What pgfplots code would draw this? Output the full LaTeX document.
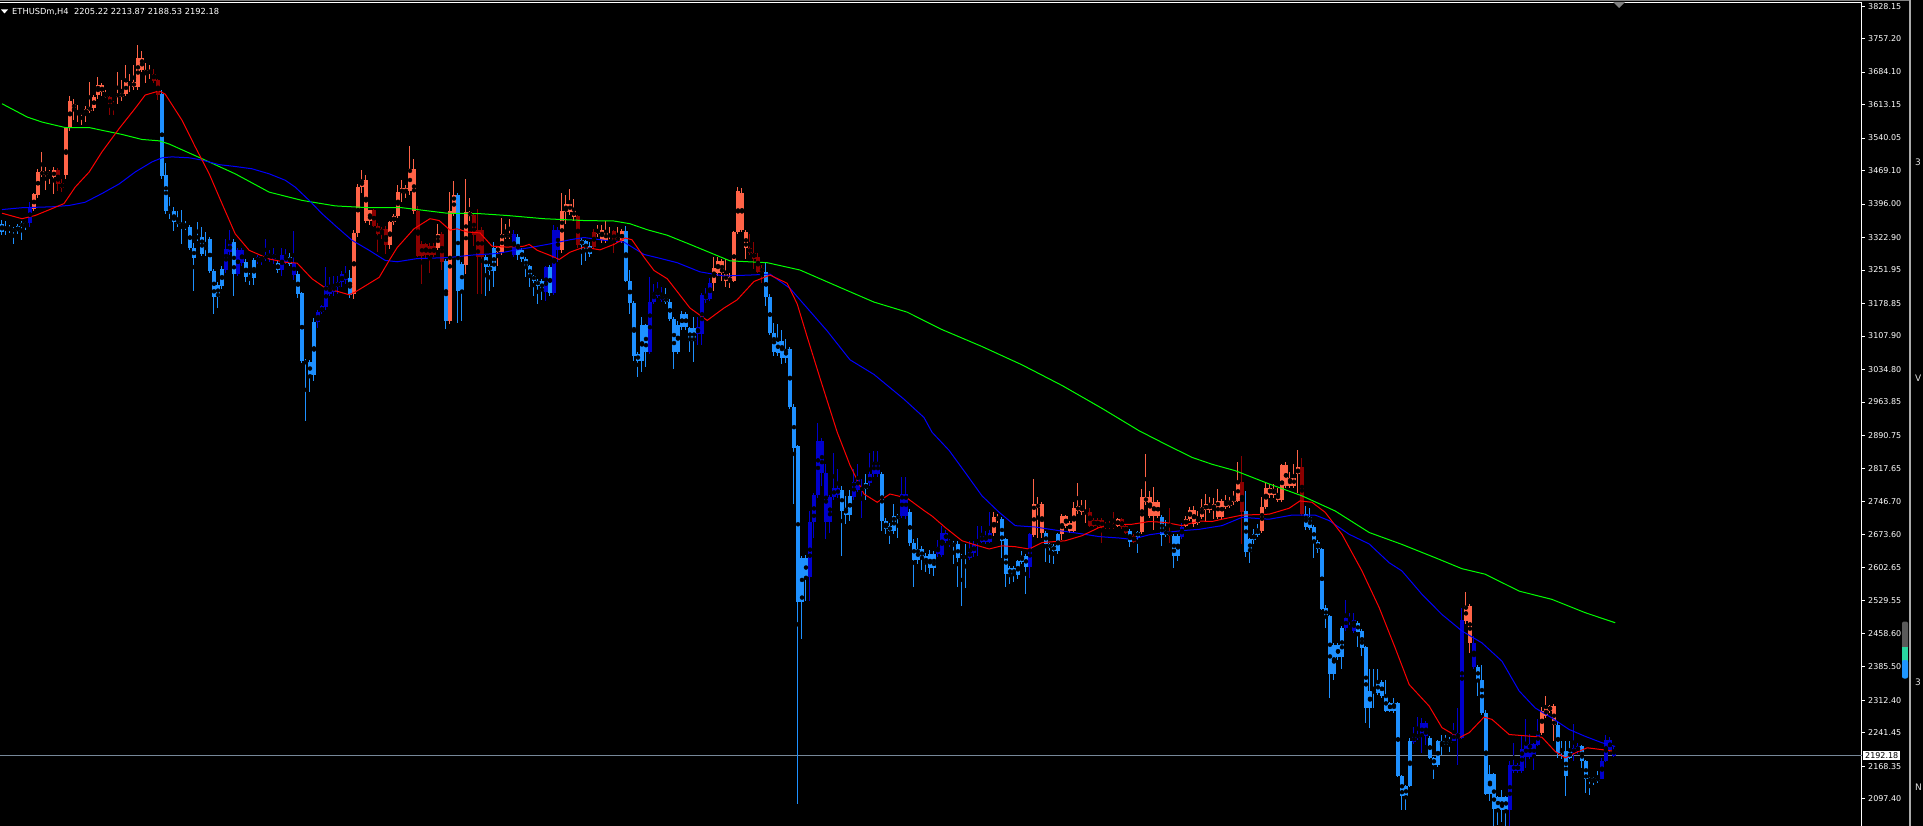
\documentclass[border=0pt]{standalone}
\usepackage{fontspec}
\setmainfont{DejaVu Sans}
\usepackage{pgfplots}
\usepackage{pgfplotstable}
\pgfplotsset{compat=1.18}

\definecolor{upred}{HTML}{FF6347}
\definecolor{dnred}{HTML}{8B0000}
\definecolor{dnblue}{HTML}{1E90FF}
\definecolor{upblue}{HTML}{0000CD}
\definecolor{pline}{HTML}{778899}

% ETHUSDm H4 bars: index, open, high, low, close, colour class
% k: 0 tomato, 1 dark red, 2 dodger blue, 3 medium blue
\pgfplotstableread{
i o h l c k
0 3352 3362 3328 3334 2
1 3340 3358 3328 3344 2
2 3346 3350 3333 3339 2
3 3341 3345 3309 3337 2
4 3347 3352 3330 3338 2
5 3354 3360 3317 3347 2
6 3356 3358 3340 3353 2
7 3355 3400 3346 3390 3
8 3385 3420 3380 3417 0
9 3416 3473 3410 3467 0
10 3459 3510 3455 3468 0
11 3460 3477 3426 3466 0
12 3462 3470 3440 3465 0
13 3454 3477 3418 3470 0
14 3471 3474 3425 3440 1
15 3442 3450 3422 3432 1
16 3459 3565 3451 3563 0
17 3563 3632 3555 3621 0
18 3605 3625 3580 3615 0
19 3594 3612 3576 3600 0
20 3594 3600 3568 3597 0
21 3594 3610 3575 3603 0
22 3600 3663 3595 3608 0
23 3605 3635 3600 3629 0
24 3634 3674 3625 3656 0
25 3640 3660 3632 3655 0
26 3629 3645 3627 3637 0
27 3630 3632 3590 3611 1
28 3615 3620 3590 3612 1
29 3630 3685 3615 3637 0
30 3630 3666 3620 3638 0
31 3636 3700 3632 3663 0
32 3655 3680 3640 3663 0
33 3652 3699 3645 3662 0
34 3652 3744 3645 3714 0
35 3688 3730 3685 3714 0
36 3681 3703 3660 3688 0
37 3681 3700 3670 3688 0
38 3681 3690 3660 3665 1
39 3666 3670 3623 3634 1
40 3637 3645 3450 3457 2
41 3459 3486 3375 3381 2
42 3382 3411 3364 3377 2
43 3381 3390 3338 3357 2
44 3360 3380 3345 3353 2
45 3354 3384 3308 3349 2
46 3349 3359 3340 3344 2
47 3346 3350 3295 3300 2
48 3300 3310 3207 3278 2
49 3325 3357 3315 3322 2
50 3324 3345 3283 3287 2
51 3302 3335 3283 3298 2
52 3319 3325 3245 3250 2
53 3250 3255 3156 3194 2
54 3220 3225 3170 3194 2
55 3255 3260 3210 3218 2
56 3253 3320 3245 3297 3
57 3291 3340 3285 3311 3
58 3313 3320 3196 3244 2
59 3244 3300 3240 3296 3
60 3267 3300 3260 3296 3
61 3269 3275 3225 3236 2
62 3240 3245 3220 3235 2
63 3273 3278 3220 3235 2
64 3271 3285 3265 3280 3
65 3275 3285 3262 3280 3
66 3277 3320 3272 3284 3
67 3280 3295 3270 3287 3
68 3275 3300 3265 3287 3
69 3267 3272 3245 3253 2
70 3251 3300 3240 3284 3
71 3270 3298 3265 3284 3
72 3280 3290 3260 3266 2
73 3242 3338 3230 3267 3
74 3244 3250 3190 3200 2
75 3201 3205 3050 3053 2
76 3053 3058 2923 3048 2
77 3051 3055 2985 3023 2
78 3139 3147 3010 3023 2
79 3139 3165 3125 3160 3
80 3160 3175 3155 3173 3
81 3171 3258 3165 3218 3
82 3200 3236 3195 3217 3
83 3205 3240 3195 3217 3
84 3215 3240 3200 3226 3
85 3225 3250 3215 3244 3
86 3230 3260 3222 3244 3
87 3234 3252 3192 3198 2
88 3200 3340 3189 3333 0
89 3333 3440 3325 3433 0
90 3433 3471 3420 3448 0
91 3360 3460 3355 3448 0
92 3360 3383 3350 3382 0
93 3382 3385 3345 3349 1
94 3349 3355 3291 3331 1
95 3342 3346 3320 3331 1
96 3342 3348 3287 3306 1
97 3306 3360 3298 3357 0
98 3357 3375 3350 3371 0
99 3371 3437 3365 3422 0
100 3420 3448 3400 3430 0
101 3420 3437 3410 3430 0
102 3425 3522 3415 3472 0
103 3380 3494 3375 3472 0
104 3381 3392 3280 3282 1
105 3308 3315 3222 3282 1
106 3308 3312 3277 3285 1
107 3304 3310 3245 3284 1
108 3304 3312 3280 3284 1
109 3301 3353 3295 3330 0
110 3331 3335 3251 3269 1
111 3271 3275 3124 3140 2
112 3140 3422 3135 3380 0
113 3375 3446 3370 3415 0
114 3415 3420 3136 3207 2
115 3266 3270 3140 3207 2
116 3264 3450 3244 3379 0
117 3369 3410 3360 3379 0
118 3372 3376 3305 3329 1
119 3340 3386 3199 3280 1
120 3340 3345 3199 3280 1
121 3280 3285 3196 3258 2
122 3260 3265 3207 3250 2
123 3301 3313 3215 3250 2
124 3291 3305 3260 3302 0
125 3291 3366 3285 3331 0
126 3324 3352 3320 3331 0
127 3324 3364 3320 3331 0
128 3284 3340 3280 3330 3
129 3325 3330 3273 3284 2
130 3295 3300 3270 3277 2
131 3277 3280 3237 3258 2
132 3260 3262 3216 3238 2
133 3240 3242 3196 3229 2
134 3229 3232 3177 3218 2
135 3229 3232 3187 3207 2
136 3204 3260 3184 3258 3
137 3258 3262 3195 3202 2
138 3202 3350 3198 3339 3
139 3296 3345 3270 3339 3
140 3296 3420 3290 3381 0
141 3379 3415 3353 3397 0
142 3379 3428 3372 3397 0
143 3368 3408 3360 3382 0
144 3369 3372 3300 3306 1
145 3318 3322 3262 3306 2
146 3315 3318 3272 3295 2
147 3304 3313 3280 3286 2
148 3335 3342 3298 3302 1
149 3331 3350 3325 3340 0
150 3317 3350 3312 3340 0
151 3317 3359 3312 3335 0
152 3313 3345 3310 3317 0
153 3337 3340 3290 3313 1
154 3317 3346 3312 3324 0
155 3315 3342 3310 3337 0
156 3337 3347 3225 3228 2
157 3229 3251 3156 3180 2
158 3181 3185 3054 3065 2
159 3069 3072 3018 3053 2
160 3131 3149 3030 3053 2
161 3131 3135 3041 3072 2
162 3072 3237 3068 3182 3
163 3182 3222 3178 3204 3
164 3196 3225 3190 3207 3
165 3187 3215 3182 3196 3
166 3192 3212 3178 3182 2
167 3182 3188 3140 3146 2
168 3146 3150 3035 3074 2
169 3131 3140 3068 3074 2
170 3155 3162 3120 3128 2
171 3155 3160 3122 3128 2
172 3125 3128 3074 3097 2
173 3125 3150 3052 3097 2
174 3113 3150 3088 3128 3
175 3113 3202 3088 3198 3
176 3187 3212 3180 3198 3
177 3189 3234 3185 3223 3
178 3223 3281 3207 3256 0
179 3245 3281 3240 3272 0
180 3245 3275 3227 3272 0
181 3227 3277 3216 3243 0
182 3227 3245 3212 3236 0
183 3227 3338 3225 3335 0
184 3335 3434 3330 3425 0
185 3340 3430 3335 3420 0
186 3299 3340 3275 3335 0
187 3299 3331 3285 3290 1
188 3290 3313 3255 3277 1
189 3281 3290 3245 3248 1
190 3256 3262 3223 3248 1
191 3248 3268 3173 3194 2
192 3194 3200 3110 3115 2
193 3115 3137 3065 3074 2
194 3098 3135 3065 3071 2
195 3098 3120 3047 3061 2
196 3079 3101 3050 3061 2
197 3079 3085 2948 2952 2
198 2954 2960 2741 2864 2
199 2867 2870 2087 2527 2
200 2624 2628 2446 2527 2
201 2624 2630 2530 2581 2
202 2581 2727 2530 2702 3
203 2702 2765 2666 2761 3
204 2761 2918 2755 2879 3
205 2808 2885 2780 2879 3
206 2702 2828 2665 2808 3
207 2702 2760 2678 2756 3
208 2756 2853 2750 2777 3
209 2760 2817 2755 2777 3
210 2772 2780 2628 2727 2
211 2732 2759 2698 2718 2
212 2759 2772 2705 2718 2
213 2756 2817 2750 2790 3
214 2772 2828 2768 2801 3
215 2772 2795 2711 2777 3
216 2786 2807 2750 2775 2
217 2786 2853 2780 2806 3
218 2806 2858 2800 2833 3
219 2806 2858 2800 2833 3
220 2806 2812 2682 2705 2
221 2705 2710 2675 2687 2
222 2693 2700 2653 2682 2
223 2716 2741 2676 2682 2
224 2716 2720 2668 2709 2
225 2716 2801 2710 2763 3
226 2716 2801 2709 2763 3
227 2723 2730 2650 2657 2
228 2657 2665 2561 2619 2
229 2642 2666 2610 2619 2
230 2642 2650 2597 2624 2
231 2628 2635 2592 2610 2
232 2633 2640 2588 2601 2
233 2633 2638 2583 2601 2
234 2633 2662 2625 2648 3
235 2630 2693 2625 2679 3
236 2661 2685 2655 2679 3
237 2653 2665 2648 2661 3
238 2655 2660 2610 2650 2
239 2653 2661 2559 2623 2
240 2628 2632 2519 2623 2
241 2628 2653 2557 2623 2
242 2624 2661 2618 2637 3
243 2635 2661 2625 2653 3
244 2659 2693 2628 2661 3
245 2659 2693 2655 2672 3
246 2659 2682 2655 2672 3
247 2659 2723 2655 2679 3
248 2677 2723 2672 2712 0
249 2706 2719 2700 2712 0
250 2708 2712 2624 2661 2
251 2664 2668 2559 2588 2
252 2602 2606 2566 2586 2
253 2602 2606 2570 2586 2
254 2617 2620 2577 2586 2
255 2628 2639 2610 2615 2
256 2628 2632 2545 2604 2
257 2604 2678 2580 2675 3
258 2674 2796 2670 2741 0
259 2733 2757 2666 2741 0
260 2679 2745 2668 2741 0
261 2679 2683 2615 2653 2
262 2653 2657 2613 2646 2
263 2650 2654 2611 2639 2
264 2675 2679 2632 2639 2
265 2675 2720 2662 2715 0
266 2694 2718 2688 2715 0
267 2683 2705 2678 2699 0
268 2683 2745 2678 2732 0
269 2726 2788 2720 2737 0
270 2723 2750 2718 2737 0
271 2720 2750 2700 2725 0
272 2723 2733 2690 2694 1
273 2706 2710 2690 2694 1
274 2706 2710 2686 2694 1
275 2706 2710 2657 2690 1
276 2697 2702 2686 2690 1
277 2697 2705 2686 2690 1
278 2697 2724 2686 2690 1
279 2694 2710 2690 2708 0
280 2708 2710 2686 2690 1
281 2694 2697 2675 2679 1
282 2683 2687 2647 2659 2
283 2672 2675 2655 2659 1
284 2681 2683 2635 2669 2
285 2681 2774 2676 2756 0
286 2745 2851 2740 2757 0
287 2715 2770 2710 2757 0
288 2715 2779 2684 2745 0
289 2715 2750 2710 2745 0
290 2713 2718 2650 2674 2
291 2683 2706 2670 2674 2
292 2681 2732 2657 2672 1
293 2672 2676 2602 2628 2
294 2672 2676 2617 2628 2
295 2669 2700 2665 2690 3
296 2694 2715 2690 2708 0
297 2708 2735 2705 2728 0
298 2697 2737 2692 2728 0
299 2699 2726 2695 2712 0
300 2712 2752 2708 2734 0
301 2728 2763 2705 2741 0
302 2728 2757 2722 2741 0
303 2730 2754 2708 2741 0
304 2712 2774 2708 2748 0
305 2712 2752 2708 2748 0
306 2735 2761 2730 2747 0
307 2737 2757 2732 2747 0
308 2745 2770 2740 2757 0
309 2748 2832 2745 2790 0
310 2790 2847 2653 2723 1
311 2725 2770 2626 2637 2
312 2664 2668 2613 2637 2
313 2675 2686 2655 2662 2
314 2686 2697 2670 2674 2
315 2683 2756 2678 2735 0
316 2735 2788 2730 2776 0
317 2761 2785 2755 2777 0
318 2761 2785 2755 2774 0
319 2750 2777 2745 2763 0
320 2750 2829 2745 2826 0
321 2781 2832 2776 2826 0
322 2781 2810 2776 2798 0
323 2781 2828 2776 2799 0
324 2807 2859 2766 2821 0
325 2821 2842 2715 2720 1
326 2720 2737 2685 2690 2
327 2712 2732 2685 2688 2
328 2691 2695 2624 2659 2
329 2659 2662 2635 2643 2
330 2643 2646 2510 2513 2
331 2515 2520 2470 2494 2
332 2497 2500 2317 2371 2
333 2433 2437 2358 2371 2
334 2433 2438 2400 2407 2
335 2471 2475 2382 2407 2
336 2471 2531 2465 2492 3
337 2483 2504 2478 2492 3
338 2464 2504 2460 2487 3
339 2482 2486 2428 2462 2
340 2465 2468 2409 2427 2
341 2429 2432 2263 2295 2
342 2334 2380 2252 2295 2
343 2334 2380 2296 2329 2
344 2353 2380 2325 2329 2
345 2353 2358 2318 2322 2
346 2322 2356 2288 2290 2
347 2307 2310 2287 2290 2
348 2307 2318 2285 2290 2
349 2307 2310 2145 2147 2
350 2147 2150 2074 2103 2
351 2125 2128 2074 2103 2
352 2223 2230 2123 2125 2
353 2222 2254 2218 2234 3
354 2231 2276 2226 2238 3
355 2234 2275 2198 2263 3
356 2234 2268 2216 2263 3
357 2231 2235 2185 2187 2
358 2187 2190 2142 2172 2
359 2223 2226 2168 2172 2
360 2223 2238 2194 2216 2
361 2223 2238 2215 2216 2
362 2227 2232 2200 2220 2
363 2223 2263 2223 2242 3
364 2231 2295 2172 2242 3
365 2231 2515 2228 2489 3
366 2486 2550 2480 2519 0
367 2519 2522 2416 2438 0
368 2438 2453 2380 2385 3
369 2385 2390 2322 2358 2
370 2358 2390 2280 2285 2
371 2285 2292 2105 2108 2
372 2151 2172 2093 2108 2
373 2151 2155 2037 2076 2
374 2101 2104 2041 2076 2
375 2101 2117 2048 2074 2
376 2101 2104 2037 2074 2
377 2074 2180 2037 2172 3
378 2159 2220 2155 2172 3
379 2159 2176 2155 2172 3
380 2159 2238 2155 2207 3
381 2188 2271 2165 2217 3
382 2188 2239 2185 2217 3
383 2188 2220 2161 2217 3
384 2216 2271 2212 2242 3
385 2242 2298 2238 2290 0
386 2278 2322 2274 2296 0
387 2290 2303 2286 2300 0
388 2300 2304 2223 2258 0
389 2258 2267 2187 2198 2
390 2205 2223 2185 2198 2
391 2201 2223 2103 2147 2
392 2201 2223 2185 2187 2
393 2208 2261 2180 2198 3
394 2201 2220 2195 2212 3
395 2212 2215 2165 2180 2
396 2180 2183 2110 2140 2
397 2143 2146 2105 2136 2
398 2143 2146 2128 2136 2
399 2144 2158 2132 2137 2
400 2142 2187 2140 2181 3
401 2181 2238 2178 2225 3
402 2225 2232 2200 2205 3
403 2205.22 2213.87 2188.53 2192.18 3
}\bars

\pgfplotsset{
  wick/.style 2 args={forget plot, only marks, mark=none,
    restrict expr to domain={\thisrow{k}}{#1:#1},
    error bars/y dir=both, error bars/y explicit, error bars/error mark=none,
    error bars/error bar style={line width=1pt, color=#2}},
  body/.style 2 args={forget plot, only marks, mark=none,
    restrict expr to domain={\thisrow{k}}{#1:#1},
    error bars/y dir=both, error bars/y explicit, error bars/error mark=none,
    error bars/error bar style={line width=4pt, color=#2}},
}
\newcommand{\candles}[2]{%
  \addplot[wick={#1}{#2}] table[x=i, y expr={(\thisrow{h}+\thisrow{l})/2},
    y error expr={(\thisrow{h}-\thisrow{l})/2}] {\bars};
  \addplot[body={#1}{#2}] table[x=i, y expr={(\thisrow{o}+\thisrow{c})/2},
    y error expr={max(abs(\thisrow{o}-\thisrow{c})/2,1.1)}] {\bars};
}

\begin{document}
\begin{tikzpicture}[x=1pt,y=1pt]
\fill[black] (0,0) rectangle (1923,-826);
\begin{axis}[
  at={(0pt,-3pt)}, anchor=north west,
  scale only axis, width=1862pt, height=823pt,
  xmin=-0.5, xmax=465, ymin=2038.3, ymax=3834.9,
  axis x line=none, xtick=\empty,
  axis y line*=right,
  y axis line style={white, line width=1pt, -},
  ytick={2097.40,2168.35,2241.45,2312.40,2385.50,2458.60,2529.55,2602.65,2673.60,2746.70,2817.65,2890.75,2963.85,3034.80,3107.90,3178.85,3251.95,3322.90,3396.00,3469.10,3540.05,3613.15,3684.10,3757.20,3828.15},
  yticklabels={2097.40,2168.35,2241.45,2312.40,2385.50,2458.60,2529.55,2602.65,2673.60,2746.70,2817.65,2890.75,2963.85,3034.80,3107.90,3178.85,3251.95,3322.90,3396.00,3469.10,3540.05,3613.15,3684.10,3757.20,3828.15},
  tick align=outside, major tick length=3pt,
  tick style={white, line width=1pt},
  yticklabel style={font=\fontsize{8}{9}\selectfont, text=white, anchor=west, inner sep=0pt, xshift=3pt},
]
% current price line
\addplot[pline, line width=1pt, forget plot] coordinates {(-0.5,2192.18) (465,2192.18)};

\candles{0}{upred}
\candles{1}{dnred}
\candles{2}{dnblue}
\candles{3}{upblue}

% slow moving average
\addplot[color={rgb,255:red,0;green,255;blue,0}, line width=1pt] table {
x y
0 3615
6.3 3586
10 3575
15.8 3563
21.8 3563
25 3557
30 3548
35 3537
39.3 3534
41.8 3527
50 3495
58.3 3462
66.8 3422
75 3404
83.3 3392
91.8 3388
100 3388
111.3 3376
119.5 3375
126.3 3371
135.5 3364
145.5 3360
153 3359
157 3353
161.3 3340
166.3 3328
172 3308
182 3272
191.3 3268
199.5 3252
209.5 3214
218 3182
226.3 3160
235 3122
245 3085
255 3045
265 3000
275 2950
284.3 2901
290.8 2872
297.5 2843
302.5 2828
308.3 2814
316.8 2785
325 2759
333.3 2726
341.8 2679
350 2653
358.3 2624
365 2600
370.8 2588
379.3 2551
387.5 2533
395.8 2504
403.3 2482
};
% medium moving average
\addplot[color={rgb,255:red,0;green,0;blue,255}, line width=1pt] table {
x y
0 3384
5 3388
12.5 3390
16.8 3393
20.8 3400
25 3419
29.3 3440
33.3 3466
37.5 3488
40 3497
42.5 3499
46.8 3497
50 3492
54.3 3482
58.3 3478
62.5 3473
66.8 3462
70.8 3448
73.3 3433
76.8 3404
80 3375
83.3 3349
87.5 3317
91.8 3295
95.8 3273
98.8 3270
103.8 3277
111.3 3279
118 3285
123.8 3288
128 3295
132 3301
137 3309
142 3318
145.5 3323
150.5 3317
155.5 3313
160.5 3286
163.8 3279
168.8 3268
174.5 3248
180.5 3239
187 3241
192 3243
197 3212
201.3 3169
206.3 3119
212 3056
218 3024
225.5 2970
230.5 2930
232.5 2898
236.8 2858
240.8 2810
245 2759
249.3 2723
253.3 2694
258.3 2691
264.3 2683
269.3 2677
274.3 2670
279.3 2667
282.5 2664
286.8 2674
290.8 2679
295 2683
299.3 2686
305 2694
310 2712
316.8 2708
322.5 2717
328.3 2717
331.8 2705
336.8 2675
341.8 2654
346.8 2613
350 2595
355 2544
360 2500
365 2464
370 2438
375 2398
379.3 2333
383.3 2296
387.5 2274
391.8 2249
395.8 2234
400 2220
403.3 2212
};
% fast moving average
\addplot[color={rgb,255:red,255;green,0;blue,0}, line width=1pt] table {
x y
0 3376
5 3364
8.3 3371
12.5 3386
15.5 3397
18.3 3433
21.8 3466
25 3510
29.3 3561
33.3 3605
35.8 3634
39.3 3643
40.8 3636
45 3579
48.3 3521
51.8 3462
55 3397
58.3 3331
61.8 3295
66.8 3276
70.8 3269
73.8 3267
77.5 3233
80.8 3213
86.8 3198
88.3 3204
94.3 3236
96.8 3273
98.8 3301
103 3342
107 3364
109.3 3360
112 3339
113.8 3342
116.3 3335
119.5 3333
122.5 3304
126.3 3302
130.5 3304
131.8 3308
133.8 3295
137 3284
139.3 3275
142 3291
145.5 3302
149.5 3296
153 3308
155.8 3322
157.5 3318
160.5 3280
163 3251
166.3 3233
168 3214
172 3169
176.3 3142
180.5 3169
183.8 3187
188 3227
192 3241
196.3 3223
198.8 3178
201.3 3106
204.5 3016
208.8 2898
212 2826
215.5 2763
218.8 2745
222 2763
226.3 2754
230.5 2727
232.5 2715
235.8 2690
240 2661
243.3 2652
246.8 2643
250 2650
253.3 2648
256.8 2643
260 2657
265.8 2661
270 2672
274.3 2690
278.3 2696
282.5 2697
286.8 2703
290.8 2701
295 2694
299.3 2704
302.5 2703
305 2708
310 2717
316.8 2719
321.8 2732
324.5 2748
327.5 2745
330.8 2723
335 2675
340 2595
344.3 2515
348.3 2427
351.8 2347
356.8 2300
360 2253
364.3 2231
366.8 2242
370.5 2276
372.5 2271
376.8 2238
382.5 2234
385 2232
388.3 2201
390.8 2187
393.3 2198
396.3 2209
400 2205
403.3 2201
};
\coordinate (lastp) at (axis cs:465,2192.18);
\end{axis}
% frame details
\draw[gray, line width=1pt] (0,-0.5) -- (1910,-0.5);
\draw[white, line width=1pt] (0,-3) -- (1862,-3);
\draw[color={rgb,255:red,170;green,170;blue,170}, line width=1.5pt] (1910,0) -- (1910,-826);
\fill[gray] (1613,-2) -- (1625,-2) -- (1619,-8) -- cycle;
% header
\fill[white] (1,-9.5) -- (8,-9.5) -- (4.5,-13.5) -- cycle;
\node[anchor=west, inner sep=0pt, text=white, font=\fontsize{8.3}{10}\selectfont] at (12,-11.5)
  {ETHUSDm,H4\ \ 2205.22 2213.87 2188.53 2192.18};
% last price box
\node[anchor=west, fill=white, text=black, inner xsep=2pt, inner ysep=1.2pt,
  font=\fontsize{8}{9}\selectfont] at ([xshift=1pt]lastp) {2192.18};
% scroll marker
\fill[color={rgb,255:red,90;green,90;blue,90}, rounded corners=2pt] (1902,-621.5) rectangle (1908,-650);
\fill[color={rgb,255:red,40;green,215;blue,160}] (1902,-646.7) rectangle (1908,-663);
\fill[color={rgb,255:red,30;green,150;blue,255}, rounded corners=2pt] (1902,-660) rectangle (1908,-678.5);
% cut-off letters of the neighbouring panel
\begin{scope}[font=\fontsize{9}{10}\selectfont, text=gray!25]
\node[anchor=west, inner sep=0pt] at (1915,-162) {3};
\node[anchor=west, inner sep=0pt] at (1915,-378) {V};
\node[anchor=west, inner sep=0pt] at (1915,-682) {3};
\node[anchor=west, inner sep=0pt] at (1915,-787) {N};
\end{scope}
\pgfresetboundingbox
\path[use as bounding box] (0,0) rectangle (1923,-826);
\end{tikzpicture}
\end{document}
